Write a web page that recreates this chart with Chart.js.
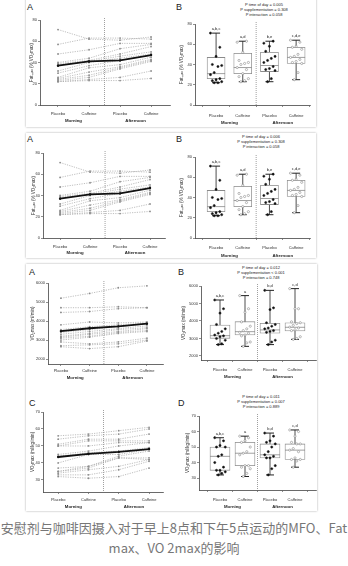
<!DOCTYPE html>
<html>
<head>
<meta charset="utf-8">
<script src="https://cdn.jsdelivr.net/npm/chart.js@4.4.1/dist/chart.umd.min.js"></script>
<style>
  body { margin: 0; background: #fff; }
  #fig { position: relative; width: 348px; height: 566px; overflow: hidden; font-family: "Liberation Sans", Arial, sans-serif; }
  .card { position: absolute; background: #fff; box-shadow: 0 0 2px rgba(0,0,0,.35); }
  canvas { position: absolute; left: 0; top: 0; }
  .tag { position: absolute; font-size: 9px; line-height: 10px; color: #222; }
  .stats { position: absolute; width: 110px; margin-left: -55px; font-size: 4px; line-height: 5px; text-align: center; color: #222; }
  .caption { position: absolute; left: 0; top: 518px; width: 348px; text-align: center; font: 13px/20px "Noto Sans CJK SC", sans-serif; color: #777; }
</style>
</head>
<body>
<div id="fig">
  <div class="card" style="left:26px;top:-3px;width:290px;height:130px"></div>
  <div class="card" style="left:26px;top:133px;width:290px;height:125px"></div>
  <div class="card" style="left:26px;top:264px;width:291px;height:247px"></div>

  <div class="tag" style="left:27px;top:2px">A</div>
  <div class="tag" style="left:176px;top:2px">B</div>
  <div class="tag" style="left:27px;top:134px">A</div>
  <div class="tag" style="left:176px;top:134px">B</div>
  <div class="tag" style="left:29px;top:267px">A</div>
  <div class="tag" style="left:178px;top:267px">B</div>
  <div class="tag" style="left:29px;top:398px">C</div>
  <div class="tag" style="left:178px;top:398px">D</div>

  <div class="stats" style="left:264px;top:2px">P time of day = 0.005<br>P supplementation = 0.308<br>P interaction = 0.058</div>
  <div class="stats" style="left:261px;top:134px">P time of day = 0.006<br>P supplementation = 0.308<br>P interaction = 0.058</div>
  <div class="stats" style="left:261px;top:265px">P time of day = 0.012<br>P supplementation &lt; 0.001<br>P interaction = 0.748</div>
  <div class="stats" style="left:261px;top:394px">P time of day = 0.011<br>P supplementation = 0.007<br>P interaction = 0.889</div>

  <div class="caption">安慰剂与咖啡因摄入对于早上8点和下午5点运动的MFO、Fat<br>max、VO 2max的影响</div>
</div>
<script>
const conditionLabels = ['Placebo', 'Caffeine', 'Placebo', 'Caffeine'];
const sessionLabels = ['Morning', 'Afternoon'];

// Fatmax (% VO2max), one value per participant
const fatMorningPla = [71, 57, 48, 40, 39, 38, 32, 30, 26, 25, 24, 23, 22, 22];
const fatMorningCaf = [62, 63, 52, 44, 42, 41, 40, 37, 35, 31, 28, 26, 24, 23];
const fatAfternoonPla = [61, 63, 58, 53, 48, 46, 44, 42, 38, 36, 35, 34, 26, 23];
const fatAfternoonCaf = [64, 62, 58, 57, 55, 50, 48, 47, 45, 43, 42, 41, 32, 25];
const fatMean = [37, 41, 42, 47];
const fatQ1 = [26, 31, 33, 41];
const fatMedian = [31, 37, 39, 47];
const fatQ3 = [47, 51, 52, 57];
const fatLetters = ['a,b,c', 'a,d', 'b,e', 'c,d,e'];
const fatTicks = [0, 20, 40, 60, 80];

// VO2max (ml/min)
const vo2MorningPla = [5200, 4700, 4450, 3800, 3550, 3400, 3300, 3200, 3150, 3100, 3000, 2900, 2700, 2650];
const vo2MorningCaf = [5450, 4700, 4500, 3950, 3700, 3550, 3450, 3350, 3300, 3200, 3150, 2800, 2750, 2550];
const vo2AfternoonPla = [5750, 4750, 4650, 3900, 3800, 3700, 3600, 3550, 3450, 3400, 3350, 2900, 2800, 2650];
const vo2AfternoonCaf = [5850, 4700, 4700, 3950, 3900, 3850, 3750, 3650, 3600, 3500, 3450, 3100, 3000, 2950];
const vo2Mean = [3470, 3620, 3720, 3860];
const vo2Q1 = [3010, 3200, 3300, 3430];
const vo2Median = [3160, 3390, 3490, 3640];
const vo2Q3 = [3770, 3960, 3870, 3900];
const vo2Letters = ['a,b,c', 'a', 'b,d', 'c,d'];
const vo2Ticks = [2000, 3000, 4000, 5000, 6000];

// VO2max (ml/kg/min)
const relMorningPla = [56, 54, 51, 50, 50, 45, 44, 40, 37, 35, 35, 34, 33, 32];
const relMorningCaf = [57, 56, 54, 53, 50, 47, 46, 45, 38, 38, 37, 36, 33, 31];
const relAfternoonPla = [59, 57, 54, 53, 52, 50, 47, 45, 44, 43, 43, 38, 36, 32];
const relAfternoonCaf = [61, 60, 57, 53, 52, 52, 49, 48, 47, 43, 42, 42, 41, 37];
const relMean = [43.5, 45.3, 46.5, 48.2];
const relQ1 = [35, 38, 43, 42];
const relMedian = [44, 46, 45, 48];
const relQ3 = [50, 53, 52, 52];
const relLetters = ['a,b,c', 'a', 'b,d', 'c,d'];
const relTicks = [30, 40, 50, 60, 70];

const W = 348, H = 566;
const FONT = '"Liberation Sans", Arial, sans-serif';

function addCanvas() {
  const c = document.createElement('canvas');
  c.width = W;
  c.height = H;
  document.getElementById('fig').appendChild(c);
  return c;
}

// dotted divider between morning and afternoon
const separator = {
  id: 'separator',
  beforeDatasetsDraw(chart) {
    const { ctx, chartArea, scales: { x } } = chart;
    const px = x.getPixelForValue(2.5);
    ctx.save();
    ctx.strokeStyle = '#777';
    ctx.lineWidth = 0.7;
    ctx.setLineDash([1, 1]);
    ctx.beginPath();
    ctx.moveTo(px, chartArea.top - 2);
    ctx.lineTo(px, chartArea.bottom);
    ctx.stroke();
    ctx.restore();
  }
};

// Morning / Afternoon under each pair of ticks
const groupLabels = {
  id: 'groupLabels',
  afterDraw(chart, args, opts) {
    const { ctx, chartArea, scales: { x } } = chart;
    ctx.save();
    ctx.font = 'bold 4.3px ' + FONT;
    ctx.fillStyle = '#222';
    ctx.textAlign = 'center';
    ctx.textBaseline = 'middle';
    sessionLabels.forEach((s, i) => {
      ctx.fillText(s, x.getPixelForValue(1.5 + 2 * i), chartArea.bottom + opts.offset);
    });
    ctx.restore();
  }
};

// significance letters above each whisker
const letterMarks = {
  id: 'letterMarks',
  afterDatasetsDraw(chart, args, opts) {
    if (!opts.letters) return;
    const { ctx, scales: { x, y } } = chart;
    ctx.save();
    ctx.font = '4px ' + FONT;
    ctx.fillStyle = '#222';
    ctx.textAlign = 'center';
    ctx.textBaseline = 'bottom';
    opts.letters.forEach((t, i) => {
      ctx.fillText(t, x.getPixelForValue(i + 1), y.getPixelForValue(opts.tops[i]) - 2);
    });
    ctx.restore();
  }
};

function buildOptions(p) {
  const yWidth = p.yWidth;
  return {
    responsive: false,
    animation: false,
    layout: { padding: { left: p.box.l - yWidth, top: p.box.t, right: W - p.box.r, bottom: H - p.box.b - 12 } },
    plugins: {
      legend: { display: false },
      tooltip: { enabled: false },
      groupLabels: { offset: p.groupOffset },
      letterMarks: { letters: p.letters, tops: p.tops }
    },
    scales: {
      x: {
        type: 'linear', min: p.xMin, max: p.xMax, offset: false,
        afterBuildTicks: ax => { ax.ticks = [1, 2, 3, 4].map(v => ({ value: v })); },
        afterFit: ax => { ax.height = 12; },
        ticks: { callback: v => conditionLabels[v - 1], font: { size: 4, family: FONT }, color: '#333', padding: p.labelOffset - 4, maxRotation: 0, autoSkip: false },
        grid: { drawOnChartArea: false, tickLength: 2, color: '#444', lineWidth: 0.6 },
        border: { color: '#444', width: 0.8 }
      },
      y: {
        type: 'linear', min: p.yMin, max: p.yMax,
        afterBuildTicks: ax => { ax.ticks = p.yTicks.map(v => ({ value: v })); },
        afterFit: ax => { ax.width = yWidth; },
        ticks: { callback: v => v, font: { size: 4, family: FONT }, color: '#333', padding: 1 },
        grid: { drawOnChartArea: false, tickLength: 2, color: '#444', lineWidth: 0.6 },
        border: { color: '#444', width: 0.8 },
        title: { display: true, text: p.yTitle, font: { size: 4.5, family: FONT }, color: '#333', padding: 0 }
      }
    }
  };
}

function linePanel(p) {
  const sets = p.cols[0].map((_, i) => ({
    type: 'line',
    data: p.cols.map((col, c) => ({ x: c + 1, y: col[i] })),
    borderColor: '#a4a4a4',
    borderWidth: 0.7,
    borderDash: [1.2, 1.2],
    pointRadius: 0.9,
    pointBackgroundColor: '#8c8c8c',
    pointBorderWidth: 0
  }));
  sets.push({
    type: 'line',
    order: -1,
    data: p.mean.map((v, c) => ({ x: c + 1, y: v })),
    borderColor: '#111',
    borderWidth: 1.8,
    pointRadius: 1.2,
    pointBackgroundColor: '#111',
    pointBorderWidth: 0
  });
  new Chart(addCanvas(), {
    type: 'scatter',
    data: { datasets: sets },
    options: buildOptions(p),
    plugins: [separator, groupLabels, letterMarks]
  });
}

// small horizontal spread so the dots do not sit on top of each other
const spread = i => ((i * 5) % 7 - 3) * 0.07;

function boxPanel(p) {
  const pos = [1, 2, 3, 4];
  const lo = p.cols.map(c => Math.min(...c));
  const hi = p.cols.map(c => Math.max(...c));
  const datasets = [];
  p.cols.forEach((col, c) => datasets.push({
    type: 'scatter',
    order: 0,
    data: col.map((v, i) => ({ x: c + 1 + spread(i), y: v })),
    pointRadius: 1.1,
    pointBorderWidth: 0.5,
    pointBackgroundColor: c % 2 ? '#fff' : '#111',
    pointBorderColor: c % 2 ? '#777' : '#111'
  }));
  datasets.push({
    type: 'scatter',
    order: 1,
    data: pos.map((x, i) => ({ x, y: p.median[i] })),
    pointStyle: 'line',
    pointRadius: p.boxWidth / 2,
    pointBorderColor: '#888',
    pointBorderWidth: 0.8
  });
  datasets.push({
    type: 'scatter',
    order: 1,
    data: pos.flatMap((x, i) => [{ x, y: lo[i] }, { x, y: hi[i] }]),
    pointStyle: 'line',
    pointRadius: 4,
    pointBorderColor: '#222',
    pointBorderWidth: 1
  });
  datasets.push({
    type: 'bar',
    order: 2,
    data: pos.map((x, i) => ({ x, y: [p.q1[i], p.q3[i]] })),
    backgroundColor: '#fff',
    borderColor: '#8a8a8a',
    borderWidth: 0.8,
    borderSkipped: false,
    barThickness: p.boxWidth
  });
  datasets.push({
    type: 'line',
    order: 3,
    data: pos.flatMap((x, i) => [{ x, y: lo[i] }, { x, y: hi[i] }, { x, y: null }]),
    borderColor: '#222',
    borderWidth: 0.8,
    pointRadius: 0,
    spanGaps: false
  });
  p.tops = hi;
  new Chart(addCanvas(), {
    type: 'scatter',
    data: { datasets },
    options: buildOptions(p),
    plugins: [separator, groupLabels, letterMarks]
  });
}

const fatCols = [fatMorningPla, fatMorningCaf, fatAfternoonPla, fatAfternoonCaf];
const vo2Cols = [vo2MorningPla, vo2MorningCaf, vo2AfternoonPla, vo2AfternoonCaf];
const relCols = [relMorningPla, relMorningCaf, relAfternoonPla, relAfternoonCaf];
const fatTitle = 'Fatₘₐₓ (% VO₂max)';

// first Fatmax row
linePanel({ cols: fatCols, mean: fatMean, box: { l: 40, t: 20, r: 170, b: 105 }, yWidth: 11, xMin: 0.42, xMax: 4.61,
  yMin: 0, yMax: 80, yTicks: fatTicks, yTitle: fatTitle, labelOffset: 8, groupOffset: 16 });
boxPanel({ cols: fatCols, q1: fatQ1, median: fatMedian, q3: fatQ3, letters: fatLetters, boxWidth: 18,
  box: { l: 195, t: 24, r: 310, b: 105 }, yWidth: 16, xMin: 0.21, xMax: 4.52,
  yMin: 0, yMax: 80, yTicks: fatTicks, yTitle: fatTitle, labelOffset: 10, groupOffset: 18 });

// second Fatmax row
linePanel({ cols: fatCols, mean: fatMean, box: { l: 43, t: 153, r: 165, b: 238 }, yWidth: 12, xMin: 0.43, xMax: 4.5,
  yMin: 0, yMax: 80, yTicks: fatTicks, yTitle: fatTitle, labelOffset: 8, groupOffset: 15 });
boxPanel({ cols: fatCols, q1: fatQ1, median: fatMedian, q3: fatQ3, letters: fatLetters, boxWidth: 18,
  box: { l: 195, t: 157, r: 310, b: 238 }, yWidth: 16, xMin: 0.21, xMax: 4.52,
  yMin: 0, yMax: 80, yTicks: fatTicks, yTitle: fatTitle, labelOffset: 9, groupOffset: 18 });

// VO2max, absolute
linePanel({ cols: vo2Cols, mean: vo2Mean, box: { l: 48, t: 283, r: 163, b: 364 }, yWidth: 18, xMin: 0.55, xMax: 4.56,
  yMin: 1740, yMax: 6000, yTicks: vo2Ticks, yTitle: 'VO₂max (ml/min)', labelOffset: 6, groupOffset: 14 });
boxPanel({ cols: vo2Cols, q1: vo2Q1, median: vo2Median, q3: vo2Q3, letters: vo2Letters, boxWidth: 20,
  box: { l: 201, t: 286, r: 316, b: 360 }, yWidth: 20, xMin: 0.24, xMax: 4.84,
  yMin: 1770, yMax: 6000, yTicks: vo2Ticks, yTitle: 'VO₂max (ml/min)', labelOffset: 9, groupOffset: 17 });

// VO2max, relative to body mass
linePanel({ cols: relCols, mean: relMean, box: { l: 43, t: 412, r: 163, b: 492 }, yWidth: 13, xMin: 0.5, xMax: 4.46,
  yMin: 22.9, yMax: 70, yTicks: relTicks, yTitle: 'VO₂max (ml/kg/min)', labelOffset: 7, groupOffset: 15 });
boxPanel({ cols: relCols, q1: relQ1, median: relMedian, q3: relQ3, letters: relLetters, boxWidth: 20,
  box: { l: 199, t: 416, r: 316, b: 490 }, yWidth: 14, xMin: 0.16, xMax: 4.84,
  yMin: 22.3, yMax: 70, yTicks: relTicks, yTitle: 'VO₂max (ml/kg/min)', labelOffset: 9, groupOffset: 17 });
</script>
</body>
</html>
